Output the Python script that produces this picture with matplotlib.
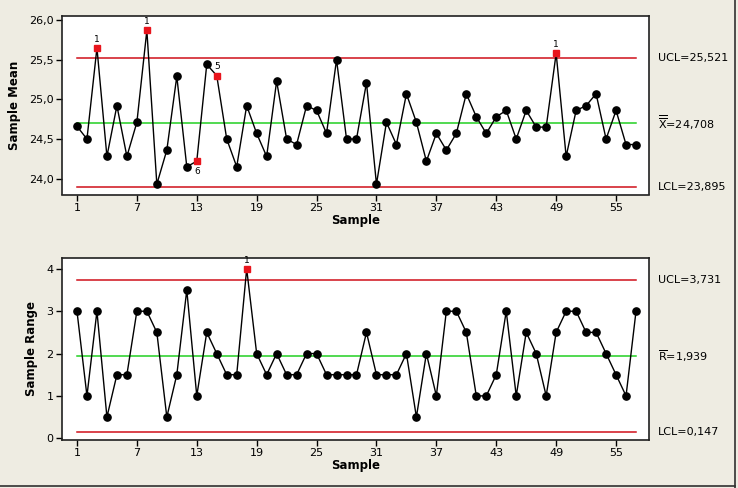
import numpy as np
import matplotlib
matplotlib.use("Agg")
import matplotlib.pyplot as plt
import matplotlib.transforms as mtransforms

samples = list(range(1, 58))
means = [24.66, 24.50, 25.65, 24.28, 24.92, 24.28, 24.71, 25.87, 23.93, 24.36,
         25.29, 24.15, 24.22, 25.44, 25.30, 24.50, 24.15, 24.92, 24.57, 24.28,
         25.23, 24.50, 24.43, 24.92, 24.86, 24.57, 25.50, 24.50, 24.50, 25.21,
         23.93, 24.71, 24.43, 25.07, 24.71, 24.22, 24.57, 24.36, 24.57, 25.07,
         24.78, 24.57, 24.78, 24.86, 24.50, 24.86, 24.65, 24.65, 25.58, 24.28,
         24.86, 24.92, 25.07, 24.50, 24.86, 24.43, 24.43]
ranges = [3, 1, 3, 0.5, 1.5, 1.5, 3, 3, 2.5, 0.5,
          1.5, 3.5, 1, 2.5, 2, 1.5, 1.5, 4, 2, 1.5,
          2, 1.5, 1.5, 2, 2, 1.5, 1.5, 1.5, 1.5, 2.5,
          1.5, 1.5, 1.5, 2, 0.5, 2, 1, 3, 3, 2.5,
          1, 1, 1.5, 3, 1, 2.5, 2, 1, 2.5, 3,
          3, 2.5, 2.5, 2, 1.5, 1, 3]

mean_ucl, mean_cl, mean_lcl = 25.521, 24.708, 23.895
range_ucl, range_cl, range_lcl = 3.731, 1.939, 0.147

mean_flags = {3: "1", 8: "1", 13: "6", 15: "5", 49: "1"}
range_flags = {18: "1"}

xticks = [1, 7, 13, 19, 25, 31, 37, 43, 49, 55]
mean_yticks = [24.0, 24.5, 25.0, 25.5, 26.0]
range_yticks = [0, 1, 2, 3, 4]

mean_labels = ["UCL=25,521", r"$\overline{\overline{\mathrm{X}}}$=24,708", "LCL=23,895"]
range_labels = ["UCL=3,731", r"$\overline{\mathrm{R}}$=1,939", "LCL=0,147"]

bg = "#EEECE2"
plt.rcParams['font.family'] = ['DejaVu Sans']
plt.rcParams['mathtext.fontset'] = 'dejavusans'

fig = plt.figure(figsize=(7.38, 4.88), dpi=100, facecolor=bg)
W, H = 738, 488
ax1 = fig.add_axes([62 / W, 1 - 194.5 / H, (649 - 62) / W, (194.5 - 15.7) / H])
ax2 = fig.add_axes([62 / W, 1 - 439.5 / H, (649 - 62) / W, (439.5 - 258.3) / H])


def comma(v, nd):
    return f"{v:.{nd}f}".replace(".", ",")


def draw(ax, vals, ucl, cl, lcl, flags, ylim, yticks, ytl, ylabel, labels, below=None):
    below = below or {}
    x = np.array(samples)
    y = np.array(vals, dtype=float)
    ax.set_facecolor("white")
    ax.plot([x[0], x[-1]], [ucl, ucl], color="#D0101A", lw=1.1, zorder=1)
    ax.plot([x[0], x[-1]], [lcl, lcl], color="#D0101A", lw=1.1, zorder=1)
    ax.plot([x[0], x[-1]], [cl, cl], color="#22D022", lw=1.1, zorder=1)
    ax.plot(x, y, color="black", lw=1.0, zorder=2)
    flagged = np.array([s in flags for s in samples])
    ax.plot(x[~flagged], y[~flagged], "o", color="black", ms=5.2, zorder=3)
    ax.plot(x[flagged], y[flagged], "s", color="#E8141C", ms=4.6, zorder=3)
    for s, t in flags.items():
        v = vals[s - 1]
        if s in below:
            ax.annotate(t, (s, v), xytext=(0, -4), textcoords="offset points",
                        ha="center", va="top", fontsize=6.5)
        else:
            ax.annotate(t, (s, v), xytext=(0, 3), textcoords="offset points",
                        ha="center", va="bottom", fontsize=6.5)
    ax.set_xlim(-0.5, 58.3)
    ax.set_ylim(*ylim)
    ax.set_xticks(xticks)
    ax.set_xticklabels([str(t) for t in xticks], fontsize=8)
    ax.set_yticks(yticks)
    ax.set_yticklabels(ytl, fontsize=8)
    ax.tick_params(direction="out", length=4, width=1, color="black", pad=2)
    for sp in ax.spines.values():
        sp.set_color("#202020")
        sp.set_linewidth(1.2)
    ax.set_xlabel("Sample", fontsize=8.5, fontweight="bold", labelpad=1)
    ax.set_ylabel(ylabel, fontsize=8.5, fontweight="bold", labelpad=6)
    tr = mtransforms.blended_transform_factory(ax.transAxes, ax.transData)
    for val, lab in zip([ucl, cl, lcl], labels):
        ax.text(1.015, val, lab, transform=tr, ha="left", va="center", fontsize=8)


draw(ax1, means, mean_ucl, mean_cl, mean_lcl, mean_flags, (23.80, 26.055),
     mean_yticks, [comma(v, 1) for v in mean_yticks], "Sample Mean", mean_labels,
     below={13: True})
draw(ax2, ranges, range_ucl, range_cl, range_lcl, range_flags, (-0.03, 4.25),
     range_yticks, [str(v) for v in range_yticks], "Sample Range", range_labels)

# window frame lines
fig.add_artist(plt.Line2D([735 / W, 735 / W], [0, 1], transform=fig.transFigure,
                          color="#303030", lw=1.2))
fig.add_artist(plt.Line2D([0, 735 / W], [1 - 486 / H, 1 - 486 / H],
                          transform=fig.transFigure, color="#303030", lw=1.2))

fig.savefig("out.png", dpi=100, facecolor=bg)
